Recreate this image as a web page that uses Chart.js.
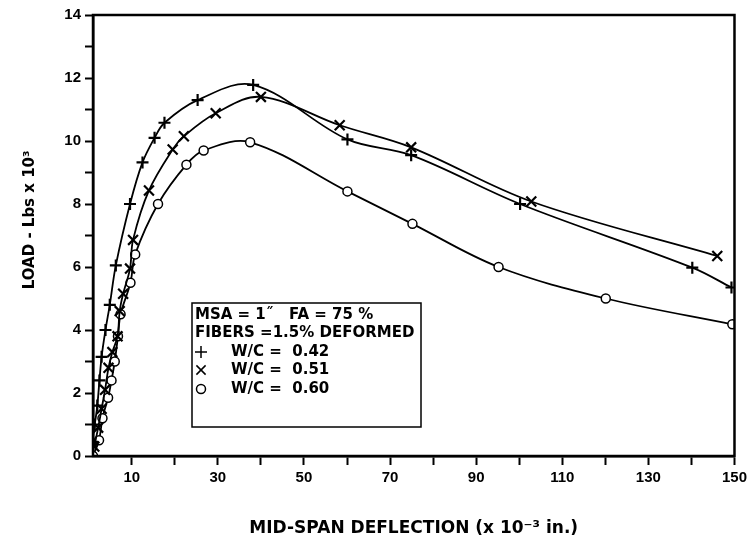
<!DOCTYPE html>
<html>
<head>
<meta charset="utf-8">
<script src="https://cdn.jsdelivr.net/npm/chart.js@4.4.1/dist/chart.umd.min.js"></script>
<style>
  html, body { margin: 0; padding: 0; background: #fff; }
  canvas { display: block; }
</style>
</head>
<body>
<canvas id="grafica" width="751" height="539"></canvas>
<script>
// Datos (deflexion x10^-3 in., carga x10^3 lbs)
const defl042 = [0.8, 1.4, 2.0, 2.5, 3.0, 3.9, 4.9, 6.3, 9.6, 12.5, 15.3, 17.6, 25.3, 38.2, 60.1, 74.9, 100.2, 140.2, 149.3];
const carga042 = [0.45, 1.0, 1.6, 2.4, 3.15, 4.0, 4.8, 6.05, 8.0, 9.32, 10.1, 10.58, 11.3, 11.78, 10.05, 9.55, 8.0, 5.98, 5.35];

const defl051 = [1.3, 2.2, 3.0, 3.8, 4.6, 5.5, 6.7, 7.2, 8.0, 9.6, 10.3, 14.0, 19.5, 22.1, 29.5, 40.0, 58.3, 74.9, 102.8, 146.0];
const carga051 = [0.3, 0.9, 1.5, 2.1, 2.8, 3.3, 3.8, 4.6, 5.15, 5.95, 6.86, 8.43, 9.73, 10.15, 10.88, 11.4, 10.5, 9.8, 8.08, 6.35];

const defl060 = [1.0, 2.4, 3.2, 4.5, 5.3, 6.05, 6.8, 7.4, 9.7, 10.8, 16.1, 22.7, 26.7, 37.5, 60.1, 75.2, 95.2, 120.1, 149.5];
const carga060 = [0.0, 0.5, 1.2, 1.85, 2.4, 3.0, 3.8, 4.5, 5.5, 6.4, 8.0, 9.25, 9.7, 9.96, 8.4, 7.37, 6.0, 5.0, 4.18];

const ticksX = [10, 20, 30, 40, 50, 60, 70, 80, 90, 100, 110, 120, 130, 140, 150];
const etiquetasX = [10, 30, 50, 70, 90, 110, 130, 150];
const etiquetasY = [0, 2, 4, 6, 8, 10, 12, 14];

const lineasLeyenda = ['MSA = 1\u02DD   FA = 75 %', 'FIBERS =1.5% DEFORMED'];
const series = ['W/C =  0.42', 'W/C =  0.51', 'W/C =  0.60'];
const marcadores = ['cross', 'crossRot', 'circle'];

const fuente = 'Liberation Sans, Arial, sans-serif';
const fuenteTitulo = 'DejaVu Sans, sans-serif';

function puntos(xs, ys) {
    return xs.map((x, i) => ({ x: x, y: ys[i] }));
}

function serie(xs, ys, estilo) {
    return {
        data: puntos(xs, ys),
        borderColor: '#000',
        borderWidth: 1.8,
        backgroundColor: '#fff',
        pointBorderColor: '#000',
        pointBackgroundColor: '#fff',
        pointStyle: estilo,
        pointRadius: estilo === 'circle' ? 4.5 : (estilo === 'cross' ? 6 : 7),
        pointBorderWidth: estilo === 'circle' ? 1.5 : 2.2,
        tension: 0.35,
        fill: false
    };
}

// marco completo y leyenda dentro del area
const marcoPlugin = {
    id: 'marco',
    afterDraw(chart) {
        const ctx = chart.ctx;
        const a = chart.chartArea;
        ctx.save();
        ctx.strokeStyle = '#000';
        ctx.lineWidth = 2.5;
        ctx.strokeRect(a.left, a.top, a.right - a.left, a.bottom - a.top);

        // leyenda
        const bx = 192, by = 303, bw = 229, bh = 124;
        ctx.lineWidth = 1.5;
        ctx.fillStyle = '#fff';
        ctx.fillRect(bx, by, bw, bh);
        ctx.strokeRect(bx, by, bw, bh);

        ctx.fillStyle = '#000';
        ctx.font = 'bold 15px ' + fuenteTitulo;
        ctx.textBaseline = 'middle';
        ctx.textAlign = 'left';
        ctx.fillText(lineasLeyenda[0], bx + 3, by + 12);
        ctx.fillText(lineasLeyenda[1], bx + 3, by + 30);

        const filas = [by + 49, by + 67, by + 86];
        series.forEach((txt, i) => {
            ctx.strokeStyle = '#000';
            ctx.fillStyle = '#fff';
            const opts = {
                pointStyle: marcadores[i],
                radius: marcadores[i] === 'circle' ? 4.5 : (marcadores[i] === 'cross' ? 6 : 6.5),
                borderWidth: marcadores[i] === 'circle' ? 2 : 2.5,
                rotation: 0
            };
            Chart.helpers.drawPoint(ctx, opts, bx + 9, filas[i]);
            ctx.fillStyle = '#000';
            ctx.fillText(txt, bx + 39, filas[i]);
        });
        ctx.restore();
    }
};

const ctx = document.getElementById('grafica').getContext('2d');

const miGrafica = new Chart(ctx, {
    type: 'line',
    data: {
        datasets: [
            serie(defl042, carga042, marcadores[0]),
            serie(defl051, carga051, marcadores[1]),
            serie(defl060, carga060, marcadores[2])
        ]
    },
    options: {
        responsive: false,
        animation: false,
        devicePixelRatio: 1,
        layout: { padding: { top: 15, right: 16, left: 0, bottom: 0 } },
        plugins: {
            legend: { display: false },
            tooltip: { enabled: false }
        },
        scales: {
            x: {
                type: 'linear',
                min: 1,
                max: 150,
                afterBuildTicks: (scale) => {
                    scale.ticks = ticksX.map(v => ({ value: v }));
                },
                afterFit: (scale) => { scale.height = 83; },
                grid: {
                    drawOnChartArea: false,
                    drawTicks: true,
                    tickLength: 9,
                    tickWidth: 2,
                    tickColor: '#000'
                },
                border: { display: true, color: '#000', width: 2.5 },
                ticks: {
                    color: '#000',
                    padding: 4,
                    maxRotation: 0,
                    autoSkip: false,
                    font: { family: fuente, size: 15, weight: 'bold' },
                    callback: (v) => etiquetasX.includes(v) ? String(v) : ''
                },
                title: {
                    display: true,
                    text: 'MID-SPAN DEFLECTION (x 10\u207B\u00B3 in.)',
                    color: '#000',
                    font: { family: fuenteTitulo, size: 17, weight: 'bold' },
                    padding: { top: 14, bottom: 0 }
                }
            },
            y: {
                min: 0,
                max: 14,
                afterBuildTicks: (scale) => {
                    const t = [];
                    for (let v = 0; v <= 14; v++) t.push({ value: v });
                    scale.ticks = t;
                },
                afterFit: (scale) => { scale.width = 93; },
                grid: {
                    drawOnChartArea: false,
                    drawTicks: true,
                    tickLength: 8,
                    tickWidth: 2,
                    tickColor: '#000'
                },
                border: { display: true, color: '#000', width: 2.5 },
                ticks: {
                    color: '#000',
                    padding: 4,
                    autoSkip: false,
                    font: { family: fuente, size: 15, weight: 'bold' },
                    callback: (v) => etiquetasY.includes(v) ? String(v) : ''
                },
                title: {
                    display: true,
                    text: '      LOAD - Lbs x 10\u00B3',
                    color: '#000',
                    font: { family: fuenteTitulo, size: 15, weight: 'bold' },
                    padding: { top: 21, bottom: 0 }
                }
            }
        }
    },
    plugins: [marcoPlugin]
});
</script>
</body>
</html>
